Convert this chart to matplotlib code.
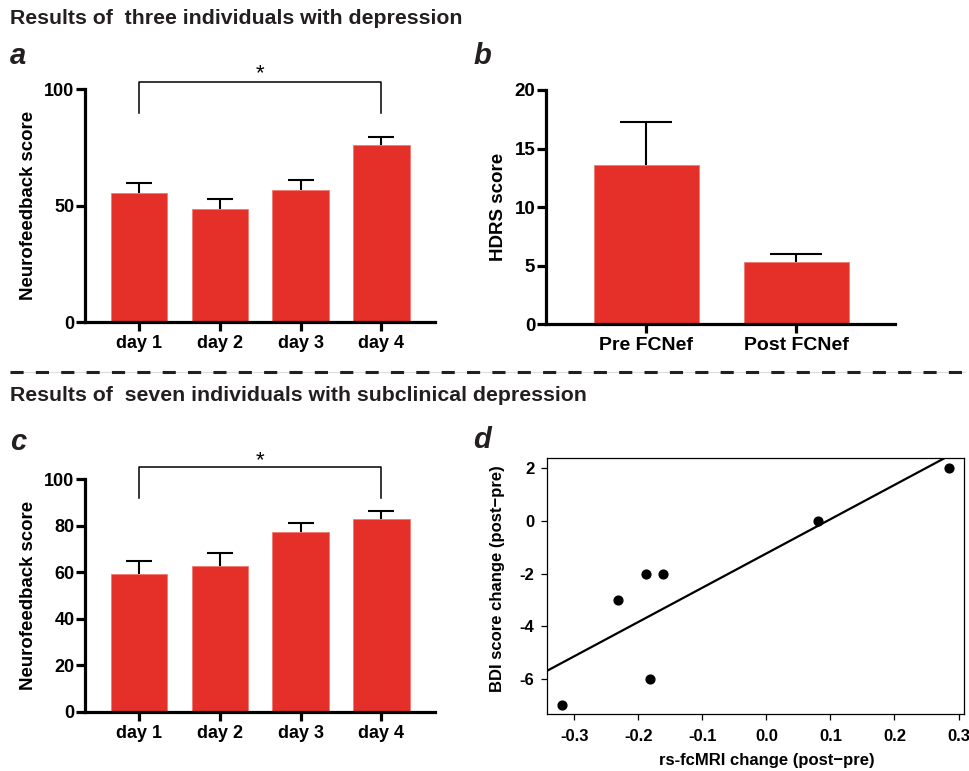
import numpy as np
import matplotlib
matplotlib.use('Agg')
import matplotlib.pyplot as plt
from matplotlib.lines import Line2D

plt.rcParams['font.family'] = ['Liberation Sans', 'DejaVu Sans']
plt.rcParams['font.weight'] = 'bold'
plt.rcParams['axes.unicode_minus'] = False

# panel a: three individuals with depression
days = ['day 1', 'day 2', 'day 3', 'day 4']
nf_dep_mean = [55.6, 48.6, 56.9, 76.0]
nf_dep_err = [4.3, 4.4, 4.3, 3.4]

# panel b
hdrs_groups = ['Pre FCNef', 'Post FCNef']
hdrs_mean = [13.6, 5.3]
hdrs_err = [3.7, 0.7]

# panel c: seven individuals with subclinical depression
nf_sub_mean = [59.0, 62.6, 77.1, 82.7]
nf_sub_err = [5.8, 5.7, 4.0, 3.7]

# panel d
fc_change = [-0.319, -0.232, -0.188, -0.162, -0.182, 0.081, 0.285]
bdi_change = [-7, -3, -2, -2, -6, 0, 2]

RED = '#E5302A'
W, H = 969, 771


def fbox(l, t, r, b):
    return [l / W, 1 - b / H, (r - l) / W, (b - t) / H]


def style_bar_axes(ax, tick_fs, xlab_fs):
    for s in ['top', 'right']:
        ax.spines[s].set_visible(False)
    for s in ['left', 'bottom']:
        ax.spines[s].set_linewidth(2.3)
    ax.tick_params(axis='both', width=2.3, length=6.5, direction='out')
    ax.tick_params(axis='y', labelsize=tick_fs, pad=1)
    ax.tick_params(axis='x', labelsize=xlab_fs, pad=3)


def bar_panel(ax, labels, means, errs, ymax, yticks, cap, ylabel, ylab_fs, tick_fs, xlab_fs):
    x = np.arange(len(labels))
    ax.bar(x, means, width=0.7, color=RED, edgecolor='#F07A70', linewidth=0.6, zorder=2)
    _, caps, _ = ax.errorbar(x, means, yerr=[np.zeros(len(errs)), errs], fmt='none',
                             ecolor='black', elinewidth=1.5, capsize=cap,
                             capthick=1.5, zorder=1)
    # only the upper cap is drawn in the original
    caps[0].set_visible(False)
    ax.set_xlim(-0.67, len(labels) - 1 + 0.665)
    ax.set_ylim(0, ymax)
    ax.set_yticks(yticks)
    ax.set_xticks(x)
    ax.set_xticklabels(labels)
    ax.set_ylabel(ylabel, fontsize=ylab_fs, fontweight='bold')
    style_bar_axes(ax, tick_fs, xlab_fs)


def bracket(ax, y_low, y_high, y_star):
    ax.plot([0, 0, 3, 3], [y_low, y_high, y_high, y_low], color='black',
            lw=1.1, clip_on=False)
    ax.text(1.5, y_star, '*', ha='center', va='center', fontsize=16,
            fontweight='normal')


fig = plt.figure(figsize=(W / 100, H / 100), dpi=100)

# titles and panel letters
fig.text(10 / W, 1 - 18 / H, 'Results of  three individuals with depression',
         fontsize=15.3, fontweight='bold', va='center', ha='left', color='#231F20')
fig.text(10 / W, 1 - 395.5 / H, 'Results of  seven individuals with subclinical depression',
         fontsize=15.3, fontweight='bold', va='center', ha='left', color='#231F20')
for lx, ly, letter in [(10, 64, 'a'), (473, 64, 'b'), (10, 450, 'c'), (473, 448, 'd')]:
    fig.text(lx / W, 1 - ly / H, letter, fontsize=21, fontweight='bold',
             style='italic', va='baseline', ha='left', color='#231F20')

# dashed separator
fig.add_artist(Line2D([10 / W, 965 / W], [1 - 371.7 / H] * 2, transform=fig.transFigure,
                      color='#dddddd', lw=0.8))
fig.add_artist(Line2D([10 / W, 965 / W], [1 - 371.7 / H] * 2, transform=fig.transFigure,
                      color='#231F20', lw=2.2, linestyle=(0, (4.3, 4.0))))

# panel a
ax_a = fig.add_axes(fbox(85, 89.3, 435, 322.3))
bar_panel(ax_a, days, nf_dep_mean, nf_dep_err, 100, [0, 50, 100], 9.6,
          'Neurofeedback score', 13.4, 13, 13)
ax_a.yaxis.set_label_coords(-0.137, 0.5)
bracket(ax_a, 89.7, 103.1, 106.5)

# panel b
ax_b = fig.add_axes(fbox(545.7, 90, 895, 324))
bar_panel(ax_b, hdrs_groups, hdrs_mean, hdrs_err, 20, [0, 5, 10, 15, 20], 18.4,
          'HDRS score', 13.5, 13.5, 14)
ax_b.set_xlim(-0.67, 1.66)
ax_b.yaxis.set_label_coords(-0.111, 0.5)

# panel c
ax_c = fig.add_axes(fbox(85, 479, 435, 711.7))
bar_panel(ax_c, days, nf_sub_mean, nf_sub_err, 100, [0, 20, 40, 60, 80, 100], 9.6,
          'Neurofeedback score', 13.4, 13, 13)
ax_c.yaxis.set_label_coords(-0.137, 0.5)
bracket(ax_c, 91.7, 105.0, 107.8)

# panel d
ax_d = fig.add_axes(fbox(546.7, 458.3, 964.3, 714))
ax_d.scatter(fc_change, bdi_change, s=40, color='black', zorder=3)
slope, intercept = np.polyfit(fc_change, bdi_change, 1)
xlim_d = (-0.343, 0.309)
xs = np.array(xlim_d)
ax_d.plot(xs, intercept + slope * xs, color='black', lw=1.6)
ax_d.set_xlim(*xlim_d)
ax_d.set_ylim(-7.34, 2.38)
ax_d.set_xticks([-0.3, -0.2, -0.1, 0.0, 0.1, 0.2, 0.3])
ax_d.set_xticklabels(['%.1f' % v for v in [-0.3, -0.2, -0.1, 0.0, 0.1, 0.2, 0.3]])
ax_d.set_yticks([-6, -4, -2, 0, 2])
for s in ax_d.spines.values():
    s.set_linewidth(0.9)
ax_d.tick_params(axis='both', width=0.9, labelsize=12)
ax_d.tick_params(axis='x', length=4.5, pad=6)
ax_d.tick_params(axis='y', length=4, pad=5)
ax_d.set_xlabel('rs-fcMRI change (post\u2212pre)', fontsize=12, fontweight='bold')
ax_d.set_ylabel('BDI score change (post\u2212pre)', fontsize=12, fontweight='bold')
ax_d.xaxis.set_label_coords(0.527, -0.153)
ax_d.yaxis.set_label_coords(-0.1, 0.531)

fig.savefig('out.png', dpi=100)
